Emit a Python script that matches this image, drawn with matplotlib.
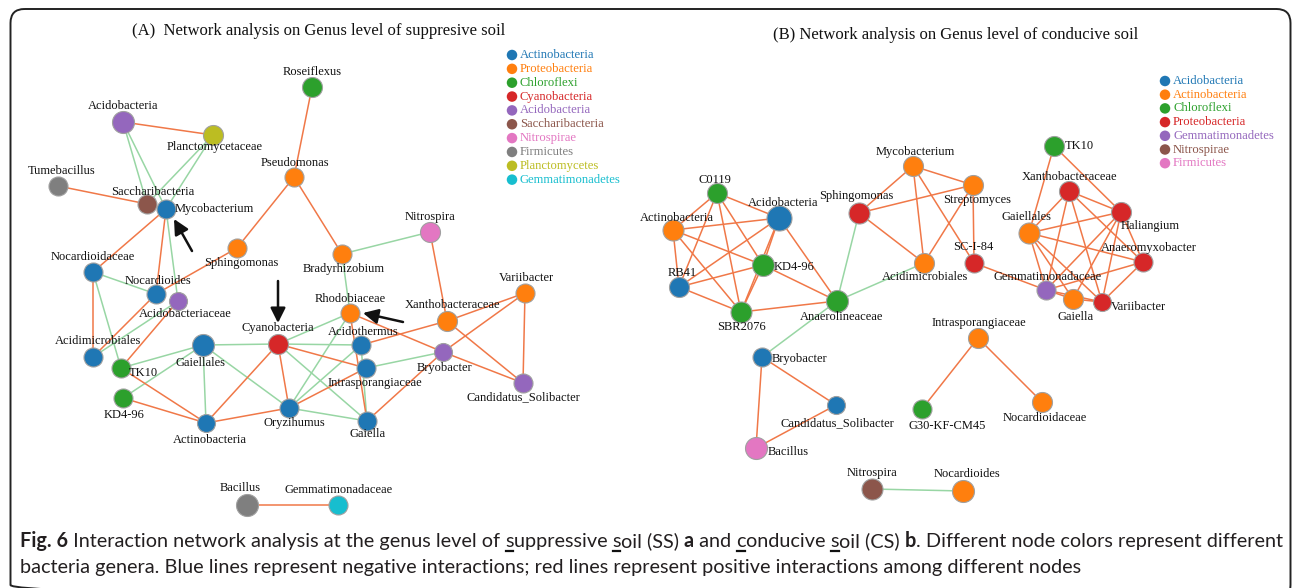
import matplotlib
matplotlib.use("Agg")
import matplotlib.pyplot as plt
from matplotlib.patches import FancyBboxPatch, FancyArrowPatch
from matplotlib.font_manager import FontProperties, fontManager

# ---------------- data: panel A (suppressive soil) ----------------
phyla_a = ["Actinobacteria", "Proteobacteria", "Chloroflexi", "Cyanobacteria", "Acidobacteria",
           "Saccharibacteria", "Nitrospirae", "Firmicutes", "Planctomycetes", "Gemmatimonadetes"]

genera_a = ["Roseiflexus", "Acidobacteria", "Planctomycetaceae", "Tumebacillus", "Saccharibacteria",
            "Mycobacterium", "Pseudomonas", "Sphingomonas", "Bradyrhizobium", "Nitrospira",
            "Nocardioidaceae", "Nocardioides", "Acidobacteriaceae", "Acidimicrobiales", "TK10",
            "KD4-96", "Gaiellales", "Actinobacteria", "Cyanobacteria", "Rhodobiaceae",
            "Acidothermus", "Intrasporangiaceae", "Oryzihumus", "Gaiella", "Bryobacter",
            "Xanthobacteraceae", "Variibacter", "Candidatus_Solibacter", "Bacillus", "Gemmatimonadaceae"]

genus_phylum_a = ["Chloroflexi", "Acidobacteria", "Planctomycetes", "Firmicutes", "Saccharibacteria",
                  "Actinobacteria", "Proteobacteria", "Proteobacteria", "Proteobacteria", "Nitrospirae",
                  "Actinobacteria", "Actinobacteria", "Acidobacteria", "Actinobacteria", "Chloroflexi",
                  "Chloroflexi", "Actinobacteria", "Actinobacteria", "Cyanobacteria", "Proteobacteria",
                  "Actinobacteria", "Actinobacteria", "Actinobacteria", "Actinobacteria", "Acidobacteria",
                  "Proteobacteria", "Proteobacteria", "Acidobacteria", "Firmicutes", "Gemmatimonadetes"]

positive_a = [("Roseiflexus", "Pseudomonas"), ("Acidobacteria", "Planctomycetaceae"),
              ("Tumebacillus", "Saccharibacteria"), ("Mycobacterium", "Nocardioidaceae"),
              ("Mycobacterium", "Nocardioides"), ("Pseudomonas", "Sphingomonas"),
              ("Pseudomonas", "Bradyrhizobium"), ("Sphingomonas", "Nocardioides"),
              ("Nitrospira", "Xanthobacteraceae"), ("Nocardioidaceae", "Acidimicrobiales"),
              ("Nocardioides", "Acidimicrobiales"), ("Acidobacteriaceae", "TK10"),
              ("TK10", "Actinobacteria"), ("KD4-96", "Actinobacteria"),
              ("Actinobacteria", "Cyanobacteria"), ("Actinobacteria", "Oryzihumus"),
              ("Cyanobacteria", "Oryzihumus"), ("Cyanobacteria", "Intrasporangiaceae"),
              ("Oryzihumus", "Intrasporangiaceae"), ("Rhodobiaceae", "Gaiella"),
              ("Rhodobiaceae", "Bryobacter"), ("Acidothermus", "Xanthobacteraceae"),
              ("Gaiella", "Bryobacter"), ("Xanthobacteraceae", "Variibacter"),
              ("Xanthobacteraceae", "Candidatus_Solibacter"), ("Bryobacter", "Variibacter"),
              ("Bryobacter", "Candidatus_Solibacter"), ("Variibacter", "Candidatus_Solibacter"),
              ("Bacillus", "Gemmatimonadaceae")]

negative_a = [("Acidobacteria", "Saccharibacteria"), ("Acidobacteria", "Mycobacterium"),
              ("Planctomycetaceae", "Saccharibacteria"), ("Planctomycetaceae", "Mycobacterium"),
              ("Mycobacterium", "Acidobacteriaceae"), ("Bradyrhizobium", "Nitrospira"),
              ("Bradyrhizobium", "Rhodobiaceae"), ("Nocardioidaceae", "Nocardioides"),
              ("Nocardioidaceae", "TK10"), ("Acidobacteriaceae", "Acidimicrobiales"),
              ("TK10", "Gaiellales"), ("KD4-96", "Gaiellales"), ("Gaiellales", "Actinobacteria"),
              ("Gaiellales", "Cyanobacteria"), ("Gaiellales", "Oryzihumus"),
              ("Cyanobacteria", "Rhodobiaceae"), ("Cyanobacteria", "Acidothermus"),
              ("Cyanobacteria", "Gaiella"), ("Oryzihumus", "Rhodobiaceae"),
              ("Oryzihumus", "Acidothermus"), ("Oryzihumus", "Gaiella"),
              ("Acidothermus", "Gaiella"), ("Intrasporangiaceae", "Bryobacter")]

# ---------------- data: panel B (conducive soil) ----------------
phyla_b = ["Acidobacteria", "Actinobacteria", "Chloroflexi", "Proteobacteria",
           "Gemmatimonadetes", "Nitrospirae", "Firmicutes"]

genera_b = ["C0119", "Acidobacteria", "Actinobacteria", "KD4-96", "RB41", "SBR2076",
            "Anaerolineaceae", "Sphingomonas", "Mycobacterium", "Streptomyces",
            "Acidimicrobiales", "SC-I-84", "TK10", "Xanthobacteraceae", "Haliangium",
            "Gaiellales", "Anaeromyxobacter", "Gemmatimonadaceae", "Gaiella", "Variibacter",
            "Bryobacter", "Candidatus_Solibacter", "Bacillus", "Intrasporangiaceae",
            "G30-KF-CM45", "Nocardioidaceae", "Nitrospira", "Nocardioides"]

genus_phylum_b = ["Chloroflexi", "Acidobacteria", "Actinobacteria", "Chloroflexi", "Acidobacteria",
                  "Chloroflexi", "Chloroflexi", "Proteobacteria", "Actinobacteria", "Actinobacteria",
                  "Actinobacteria", "Proteobacteria", "Chloroflexi", "Proteobacteria", "Proteobacteria",
                  "Actinobacteria", "Proteobacteria", "Gemmatimonadetes", "Actinobacteria",
                  "Proteobacteria", "Acidobacteria", "Acidobacteria", "Firmicutes", "Actinobacteria",
                  "Chloroflexi", "Actinobacteria", "Nitrospirae", "Actinobacteria"]

positive_b = [("C0119", "Actinobacteria"), ("C0119", "Acidobacteria"), ("C0119", "RB41"),
              ("C0119", "KD4-96"), ("C0119", "SBR2076"), ("Actinobacteria", "Acidobacteria"),
              ("Actinobacteria", "KD4-96"), ("Actinobacteria", "RB41"), ("Actinobacteria", "SBR2076"),
              ("Acidobacteria", "RB41"), ("Acidobacteria", "KD4-96"), ("Acidobacteria", "SBR2076"),
              ("Acidobacteria", "Anaerolineaceae"), ("KD4-96", "RB41"), ("KD4-96", "SBR2076"),
              ("KD4-96", "Anaerolineaceae"), ("RB41", "SBR2076"), ("SBR2076", "Anaerolineaceae"),
              ("Mycobacterium", "Sphingomonas"), ("Mycobacterium", "Streptomyces"),
              ("Mycobacterium", "Acidimicrobiales"), ("Mycobacterium", "SC-I-84"),
              ("Sphingomonas", "Streptomyces"), ("Sphingomonas", "Acidimicrobiales"),
              ("Streptomyces", "Acidimicrobiales"), ("Streptomyces", "SC-I-84"),
              ("SC-I-84", "Gemmatimonadaceae"), ("TK10", "Gaiellales"), ("TK10", "Haliangium"),
              ("Xanthobacteraceae", "Haliangium"), ("Xanthobacteraceae", "Gaiellales"),
              ("Xanthobacteraceae", "Gemmatimonadaceae"), ("Xanthobacteraceae", "Variibacter"),
              ("Xanthobacteraceae", "Anaeromyxobacter"), ("Gaiellales", "Haliangium"),
              ("Gaiellales", "Anaeromyxobacter"), ("Gaiellales", "Gemmatimonadaceae"),
              ("Gaiellales", "Gaiella"), ("Gaiellales", "Variibacter"),
              ("Haliangium", "Gemmatimonadaceae"), ("Haliangium", "Gaiella"),
              ("Haliangium", "Variibacter"), ("Haliangium", "Anaeromyxobacter"),
              ("Anaeromyxobacter", "Gemmatimonadaceae"), ("Anaeromyxobacter", "Variibacter"),
              ("Gemmatimonadaceae", "Gaiella"), ("Gemmatimonadaceae", "Variibacter"),
              ("Gaiella", "Variibacter"), ("Bryobacter", "Candidatus_Solibacter"),
              ("Bryobacter", "Bacillus"), ("Candidatus_Solibacter", "Bacillus"),
              ("Intrasporangiaceae", "G30-KF-CM45"), ("Intrasporangiaceae", "Nocardioidaceae")]

negative_b = [("Anaerolineaceae", "Sphingomonas"), ("Anaerolineaceae", "Acidimicrobiales"),
              ("Anaerolineaceae", "Bryobacter"), ("Nitrospira", "Nocardioides")]

# ---------------- layout (canvas pixels) ----------------
# node: (x, y, diameter, label dx, label dy, label alignment)
layout_a = {
    "Roseiflexus": (312, 87, 20, 0, -15, "center"),
    "Acidobacteria": (123, 122, 22, 0, -16, "center"),
    "Planctomycetaceae": (213, 135, 20, 2, 12, "center"),
    "Tumebacillus": (58, 186, 19, 4, -15, "center"),
    "Saccharibacteria": (147, 204, 19, 6, -12, "center"),
    "Mycobacterium": (166, 209, 19, 9, 0, "left"),
    "Pseudomonas": (294, 177, 19, 1, -14, "center"),
    "Sphingomonas": (237, 248, 19, 4, 15, "center"),
    "Bradyrhizobium": (342, 254, 19, 2, 15, "center"),
    "Nitrospira": (430, 232, 20, 0, -15, "center"),
    "Nocardioidaceae": (93, 272, 19, 0, -15, "center"),
    "Nocardioides": (156, 294, 19, 2, -13, "center"),
    "Acidobacteriaceae": (178, 301, 18, 7, 13, "center"),
    "Acidimicrobiales": (93, 357, 19, 5, -16, "center"),
    "TK10": (121, 368, 19, 8, 5, "left"),
    "KD4-96": (123, 398, 19, 1, 17, "center"),
    "Gaiellales": (203, 345, 22, -2, 18, "center"),
    "Actinobacteria": (206, 423, 18, 4, 17, "center"),
    "Cyanobacteria": (278, 344, 20, 0, -16, "center"),
    "Rhodobiaceae": (350, 313, 19, 0, -14, "center"),
    "Acidothermus": (361, 345, 19, 2, -13, "center"),
    "Intrasporangiaceae": (366, 368, 19, 9, 15, "center"),
    "Oryzihumus": (289, 408, 19, 5, 15, "center"),
    "Gaiella": (367, 421, 19, 1, 13, "center"),
    "Bryobacter": (443, 352, 18, 1, 16, "center"),
    "Xanthobacteraceae": (447, 321, 20, 5, -16, "center"),
    "Variibacter": (525, 293, 19, 1, -15, "center"),
    "Candidatus_Solibacter": (523, 383, 19, 0, 14, "center"),
    "Bacillus": (247, 505, 22, -7, -17, "center"),
    "Gemmatimonadaceae": (338, 505, 19, 1, -15, "center"),
}

layout_b = {
    "C0119": (717, 193, 20, -2, -13, "center"),
    "Acidobacteria": (779, 218, 25, 4, -15, "center"),
    "Actinobacteria": (673, 230, 21, 4, -12, "center"),
    "KD4-96": (763, 265, 22, 11, 2, "left"),
    "RB41": (679, 287, 20, 3, -14, "center"),
    "SBR2076": (741, 312, 21, 1, 15, "center"),
    "Anaerolineaceae": (837, 301, 22, 5, 16, "center"),
    "Sphingomonas": (859, 213, 21, -3, -17, "center"),
    "Mycobacterium": (913, 166, 20, 2, -14, "center"),
    "Streptomyces": (973, 185, 20, 4, 15, "center"),
    "Acidimicrobiales": (924, 263, 20, 1, 14, "center"),
    "SC-I-84": (974, 263, 19, -1, -16, "center"),
    "TK10": (1054, 146, 20, 11, 0, "left"),
    "Xanthobacteraceae": (1069, 191, 20, 0, -14, "center"),
    "Haliangium": (1121, 212, 20, 29, 14, "center"),
    "Gaiellales": (1029, 233, 21, -2, -16, "center"),
    "Anaeromyxobacter": (1143, 262, 19, 6, -14, "center"),
    "Gemmatimonadaceae": (1046, 290, 19, 2, -13, "center"),
    "Gaiella": (1073, 299, 20, 3, 18, "center"),
    "Variibacter": (1102, 302, 18, 9, 5, "left"),
    "Bryobacter": (762, 357, 19, 10, 2, "left"),
    "Candidatus_Solibacter": (836, 405, 18, 1, 18, "center"),
    "Bacillus": (756, 448, 22, 12, 4, "left"),
    "Intrasporangiaceae": (978, 338, 20, 1, -15, "center"),
    "G30-KF-CM45": (922, 409, 19, 25, 17, "center"),
    "Nocardioidaceae": (1042, 402, 20, 3, 16, "center"),
    "Nitrospira": (872, 489, 21, 0, -16, "center"),
    "Nocardioides": (963, 491, 22, 4, -17, "center"),
}

W, H = 1292, 588
PALETTE = ["#1f77b4", "#ff7f0e", "#2ca02c", "#d62728", "#9467bd",
           "#8c564b", "#e377c2", "#7f7f7f", "#bcbd22", "#17becf"]
POS_COLOR = "#f07848"
NEG_COLOR = "#98d6a4"
SERIF = "Liberation Serif"
LABEL_FS = 9

fig = plt.figure(figsize=(W / 100, H / 100), dpi=100)
ax = fig.add_axes([0, 0, 1, 1])
ax.set_xlim(0, W)
ax.set_ylim(H, 0)
ax.axis("off")


def px2pt(d):
    return d * 72.0 / 100.0


def draw_network(genera, phyla_of, phyla_order, layout, pos_edges, neg_edges):
    colors = {p: PALETTE[i] for i, p in enumerate(phyla_order)}
    for edges, col in ((neg_edges, NEG_COLOR), (pos_edges, POS_COLOR)):
        for a, b in edges:
            xa, ya = layout[a][:2]
            xb, yb = layout[b][:2]
            ax.plot([xa, xb], [ya, yb], color=col, lw=1.1, zorder=1,
                    solid_capstyle="round")
    for g, p in zip(genera, phyla_of):
        x, y, d, dx, dy, ha = layout[g]
        ax.scatter([x], [y], s=px2pt(d) ** 2, color=colors[p],
                   edgecolors="#a0a0a0", linewidths=0.8, zorder=3)
        ax.text(x + dx, y + dy, g, fontsize=LABEL_FS, family=SERIF,
                ha=ha, va="center", color="#111111", zorder=4)


def draw_legend(phyla_order, x0, y0, step):
    for i, p in enumerate(phyla_order):
        y = y0 + i * step
        ax.scatter([x0], [y], s=px2pt(10.5) ** 2, color=PALETTE[i],
                   edgecolors="none", zorder=3)
        ax.text(x0 + 8, y, p, fontsize=9.1, family=SERIF, color=PALETTE[i],
                ha="left", va="center")


draw_network(genera_a, genus_phylum_a, phyla_a, layout_a, positive_a, negative_a)
draw_network(genera_b, genus_phylum_b, phyla_b, layout_b, positive_b, negative_b)
draw_legend(phyla_a, 512, 55, 13.85)
draw_legend(phyla_b, 1165, 81, 13.7)

ax.text(319, 31, "(A)  Network analysis on Genus level of suppresive soil",
        fontsize=12, family=SERIF, ha="center", va="center", color="#111111")
ax.text(956, 35, "(B) Network analysis on Genus level of conducive soil",
        fontsize=12, family=SERIF, ha="center", va="center", color="#111111")

# highlight arrows
for (xt, yt), (xh, yh) in [((192, 251), (174, 219)), ((278, 281), (278, 323)),
                           ((403, 322), (363, 313))]:
    ax.add_patch(FancyArrowPatch((xt, yt), (xh, yh),
                                 arrowstyle="-|>,head_length=9,head_width=4.5",
                                 mutation_scale=1, lw=1.8, color="#111111", zorder=5,
                                 shrinkA=0, shrinkB=0))

# outer frame
ax.add_patch(FancyBboxPatch((10.5, 9), 1280, 590,
                            boxstyle="round,pad=0,rounding_size=14",
                            fill=False, lw=1.4, ec="#222222", zorder=0))

# caption with mixed weights and underlined initials
renderer = fig.canvas.get_renderer()
installed = {f.name for f in fontManager.ttflist}
candidates = [("Liberation Sans Narrow", "normal"), ("DejaVu Sans", "condensed"),
              ("Roboto", "normal"), ("Lato", "normal"), ("Open Sans", "normal")]


def make_prop(family, stretch, fs, weight):
    return FontProperties(family=family, stretch=stretch, size=fs, weight=weight)


def text_width(s, prop):
    t1 = ax.text(0, 0, "x" + s + "x", fontproperties=prop)
    t2 = ax.text(0, 0, "xx", fontproperties=prop)
    w = t1.get_window_extent(renderer).width - t2.get_window_extent(renderer).width
    t1.remove()
    t2.remove()
    return w


line1 = [("Fig. 6", "bold", False), (" Interaction network analysis at the genus level of ", "normal", False),
         ("s", "normal", True), ("uppressive ", "normal", False), ("s", "normal", True),
         ("oil (SS) ", "normal", False), ("a", "bold", False), (" and ", "normal", False),
         ("c", "normal", True), ("onducive ", "normal", False), ("s", "normal", True),
         ("oil (CS) ", "normal", False), ("b", "bold", False),
         (". Different node colors represent different", "normal", False)]
line2 = [("bacteria genera. Blue lines represent negative interactions; red lines represent "
          "positive interactions among different nodes", "normal", False)]

# choose the narrowest available sans face so the caption can be set large
best = None
for fam, stretch in candidates:
    if fam not in installed:
        continue
    total = sum(text_width(s, make_prop(fam, stretch, 12.0, w)) for s, w, _ in line1)
    if best is None or total < best[2]:
        best = (fam, stretch, total)
CAP_FAMILY, CAP_STRETCH, width12 = best
cap_fs = 12.0 * (1258.0 / width12)
CAP_COLOR = "#231f20"


def draw_line(segments, x, y):
    for s, w, ul in segments:
        prop = make_prop(CAP_FAMILY, CAP_STRETCH, cap_fs, w)
        ax.text(x, y, s, fontproperties=prop, ha="left", va="baseline", color=CAP_COLOR)
        sw = text_width(s, prop)
        if ul:
            ax.plot([x + 0.5, x + sw - 0.5], [y + 4, y + 4], color="#111111", lw=1.6)
        x += sw


draw_line(line1, 20, 547)
draw_line(line2, 20, 573)

fig.savefig("out.png", dpi=100)
